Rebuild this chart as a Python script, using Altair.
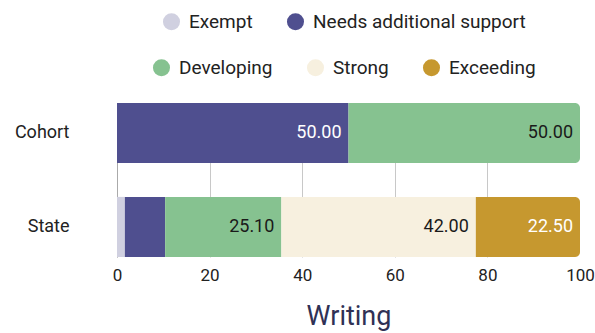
import altair as alt
import pandas as pd

# Writing results: share of students in each band, cohort vs state
groups = ["Cohort", "Cohort", "State", "State", "State", "State", "State"]
bands = ["Needs additional support", "Developing",
         "Exempt", "Needs additional support", "Developing", "Strong", "Exceeding"]
values = [50.0, 50.0, 1.7, 8.7, 25.1, 42.0, 22.5]

band_order = ["Exempt", "Needs additional support", "Developing", "Strong", "Exceeding"]
band_colors = ["#d0d0e0", "#4f4f8f", "#86c290", "#f7f0df", "#c6982f"]
row_one = band_order[:2]
row_two = band_order[2:]

df = pd.DataFrame({"group": groups, "band": bands, "value": values})
df["order"] = df["band"].map({b: i for i, b in enumerate(band_order)})

FONT = "Roboto"

base = (
    alt.Chart(df)
    .transform_filter("datum.value > 0")
    .transform_stack(stack="value", groupby=["group"], as_=["x0", "x1"],
                     sort=[alt.SortField("order")])
)

x_axis = alt.Axis(
    title="Writing", values=[0, 20, 40, 60, 80, 100], ticks=False, domain=False,
    grid=True, gridColor="#c8c8c8", labelFlush=False,
    gridOpacity=alt.condition("datum.value == 100", alt.value(0), alt.value(1)),
    labelFont=FONT, labelFontSize=17, labelColor="#222222", labelPadding=10,
    titleFont=FONT, titleFontSize=27, titleFontWeight="normal",
    titleColor="#2f3155", titlePadding=20,
)
y_axis = alt.Axis(
    title=None, ticks=False, domain=True, domainColor="#aaaaaa", grid=False,
    labelFont=FONT, labelFontSize=18, labelColor="#222222", labelPadding=48,
)

x_enc = alt.X("x0:Q", scale=alt.Scale(domain=[0, 100], nice=False), axis=x_axis)
y_enc = alt.Y("group:N", sort=["Cohort", "State"],
              scale=alt.Scale(paddingInner=0.36, paddingOuter=0), axis=y_axis)

legend_common = dict(
    title=None, orient="none", direction="horizontal", symbolType="circle",
    symbolSize=290, symbolStrokeWidth=0, labelFont=FONT, labelFontSize=19,
    labelColor="#222222", labelOffset=8, columnPadding=33, labelLimit=0,
)

first_colors = alt.Color(
    "band:N",
    scale=alt.Scale(domain=row_one, range=band_colors[:2]),
    legend=alt.Legend(legendX=45, legendY=-91, **legend_common),
)
second_colors = alt.Color(
    "band:N",
    scale=alt.Scale(domain=row_two, range=band_colors[2:]),
    legend=alt.Legend(legendX=35, legendY=-45, **legend_common),
)

bars_first = base.transform_filter(
    alt.FieldOneOfPredicate(field="band", oneOf=row_one)
).mark_bar().encode(x=x_enc, x2="x1:Q", y=y_enc, color=first_colors)

second = base.transform_filter(alt.FieldOneOfPredicate(field="band", oneOf=row_two))
bars_mid = second.transform_filter("datum.x1 < 99.99").mark_bar().encode(
    x=x_enc, x2="x1:Q", y=y_enc, color=second_colors)
bars_end = second.transform_filter("datum.x1 >= 99.99").mark_bar(
    cornerRadiusTopRight=5, cornerRadiusBottomRight=5
).encode(x=x_enc, x2="x1:Q", y=y_enc, color=second_colors)
bars_second = alt.layer(bars_mid, bars_end)

labels = base.transform_filter("datum.value >= 15").mark_text(
    align="right", baseline="middle", dx=-7, font=FONT, fontSize=18
).encode(
    x=alt.X("x1:Q", scale=alt.Scale(domain=[0, 100], nice=False), axis=x_axis),
    y=y_enc,
    text=alt.Text("value:Q", format=".2f"),
    color=alt.condition(
        alt.FieldOneOfPredicate(field="band", oneOf=["Needs additional support", "Exceeding"]),
        alt.value("#ffffff"), alt.value("#1a1a1a"),
    ),
)

chart = (
    alt.layer(bars_first, bars_second, labels)
    .resolve_scale(color="independent")
    .properties(
        width=463, height=154,
        autosize=alt.AutoSizeParams(type="none"),
        padding={"left": 117, "top": 103, "right": 15, "bottom": 76},
    )
    .configure_view(stroke=None)
)

chart.save("out.html", embed_options={"renderer": "svg", "actions": False})
